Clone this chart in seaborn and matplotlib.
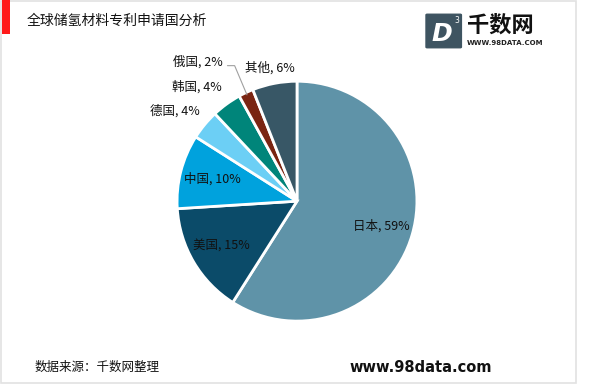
import numpy as np
import seaborn as sns
import matplotlib.pyplot as plt
from matplotlib.patches import Rectangle, FancyBboxPatch

sns.set_theme(style="white")
plt.rcParams['font.family'] = ['Noto Sans CJK SC', 'DejaVu Sans']

# data
countries = ["日本", "美国", "中国", "德国", "韩国", "俄国", "其他"]
shares = [59, 15, 10, 4, 4, 2, 6]
colors = ["#5f93a8", "#0b4b69", "#00a2dd", "#6ccff5", "#00857a", "#7a2512", "#385766"]
title = "全球储氢材料专利申请国分析"
source = "数据来源：千数网整理"

fig = plt.figure(figsize=(6, 3.85), dpi=100)
fig.patch.set_facecolor("white")

# frame + red bar
fig.add_artist(Rectangle((0.002, 0.005), 0.958, 0.993, transform=fig.transFigure,
                         fill=False, edgecolor="#e2e2e2", linewidth=1.2))
fig.add_artist(Rectangle((0.003, 0.912), 0.013, 0.088, transform=fig.transFigure,
                         color="#ff1a1a", linewidth=0))

ax = fig.add_axes([0.295, 0.166, 0.4, 0.623])
wedges, _ = ax.pie(shares, colors=colors, startangle=90, counterclock=False,
                   wedgeprops=dict(edgecolor="white", linewidth=2))
ax.set_xlim(-1, 1)
ax.set_ylim(-1, 1)
ax.set_aspect("equal")
ax.axis("off")

labels = [f"{c}, {v}%" for c, v in zip(countries, shares)]
txt = dict(fontsize=9, color="#111111", va="center")

# inside labels
for i in range(3):
    w = wedges[i]
    ang = np.deg2rad((w.theta1 + w.theta2) / 2)
    r = 0.73
    ax.text(r * np.cos(ang), r * np.sin(ang), labels[i], ha="center", **txt)

# outside labels
ax.text(-0.81, 0.75, labels[3], ha="right", **txt)
ax.text(-0.625, 0.95, labels[4], ha="right", **txt)
ax.text(-0.43, 1.11, labels[6], ha="left", **txt)
ax.text(-0.615, 1.16, labels[5], ha="right", clip_on=False, **txt)

# leader line for the small slice
w = wedges[5]
ang = np.deg2rad((w.theta1 + w.theta2) / 2)
ax.plot([-0.58, -0.52, 0.98 * np.cos(ang)], [1.13, 1.13, 0.98 * np.sin(ang)],
        color="#a0a0a0", lw=0.8, clip_on=False)

fig.text(0.045, 0.945, title, fontsize=10, va="center", ha="left", color="#111111")
fig.text(0.058, 0.045, source, fontsize=9, va="center", ha="left", color="#111111")
fig.text(0.583, 0.045, "www.98data.com", fontsize=10.5, fontweight="bold",
         va="center", ha="left", color="#111111", family=["DejaVu Sans"])

# logo
fig.add_artist(FancyBboxPatch((0.712, 0.878), 0.055, 0.083, transform=fig.transFigure,
                              boxstyle="round,pad=0.002", color="#3e5461"))
fig.text(0.737, 0.912, "D", fontsize=18, fontweight="bold", fontstyle="italic",
         color="white", ha="center", va="center", family=["DejaVu Sans"])
fig.text(0.761, 0.948, "3", fontsize=5.5, color="white", ha="center", va="center",
         family=["DejaVu Sans"])
fig.text(0.778, 0.935, "千数网", fontsize=16, fontweight="bold", color="#111111",
         ha="left", va="center")
fig.text(0.778, 0.889, "WWW.98DATA.COM", fontsize=5, fontweight="bold", color="#222222",
         ha="left", va="center", family=["DejaVu Sans"])

fig.savefig("out.png", dpi=100, facecolor="white")
